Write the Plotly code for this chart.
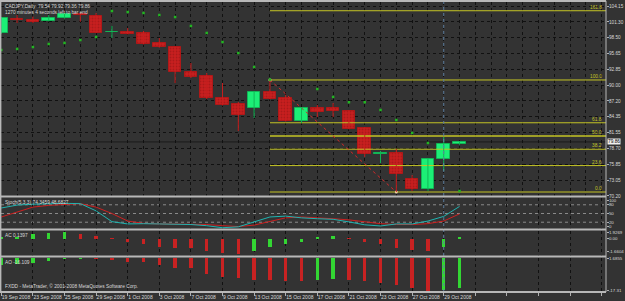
import plotly.graph_objects as go

# ---------------- data ----------------
symbol = "CADJPY"
timeframe = "Daily"
dates = ["19 Sep 2008", "22 Sep 2008", "23 Sep 2008", "24 Sep 2008", "25 Sep 2008", "26 Sep 2008",
         "29 Sep 2008", "30 Sep 2008", "1 Oct 2008", "2 Oct 2008", "3 Oct 2008", "6 Oct 2008",
         "7 Oct 2008", "8 Oct 2008", "9 Oct 2008", "10 Oct 2008", "13 Oct 2008", "14 Oct 2008",
         "15 Oct 2008", "16 Oct 2008", "17 Oct 2008", "20 Oct 2008", "21 Oct 2008", "22 Oct 2008",
         "23 Oct 2008", "24 Oct 2008", "27 Oct 2008", "28 Oct 2008", "29 Oct 2008", "30 Oct 2008"]
opens = [99.32, 101.80, 101.65, 101.47, 102.00, 102.72, 102.36, 99.45, 99.50, 99.33,
         97.54, 96.82, 92.36, 91.64, 87.71, 86.64, 85.92, 88.78, 87.71, 83.60,
         85.92, 85.92, 85.39, 82.35, 77.79, 77.88, 73.24, 71.45, 76.81, 79.54]
highs = [102.10, 102.54, 102.27, 102.54, 102.90, 102.95, 102.90, 100.58, 100.22, 99.68,
         98.43, 96.91, 93.96, 92.18, 90.39, 87.00, 88.90, 90.93, 88.25, 86.00,
         86.46, 86.82, 85.50, 82.50, 78.24, 78.60, 73.95, 76.90, 80.74, 79.92]
lows = [99.20, 101.11, 101.11, 101.40, 101.90, 101.34, 99.30, 98.43, 99.06, 97.27,
        96.73, 90.39, 91.28, 87.53, 86.37, 81.81, 84.14, 87.44, 83.51, 83.24,
        84.31, 84.31, 82.10, 77.17, 76.09, 70.91, 71.09, 71.09, 74.66, 79.36]
closes = [102.00, 101.65, 101.38, 102.00, 102.72, 102.60, 99.33, 99.56, 99.15, 97.36,
          96.82, 92.36, 91.46, 87.71, 86.46, 84.67, 88.78, 87.53, 83.60, 85.92,
          85.21, 85.39, 82.17, 77.70, 77.97, 74.13, 71.45, 76.81, 79.49, 79.86]
sar = [96.29, 96.47, 96.82, 97.36, 97.54, 98.07, 98.61, 103.26, 103.08, 102.90,
       102.54, 102.18, 100.58, 99.33, 97.72, 95.75, 93.25, 91.00, None, None,
       89.32, 87.89, 86.95, 86.95, 85.57, 83.78, 81.46, 79.67, None, 71.09]

stoch_k = [69, 79, 82, 84, 85, 84, 59, 22, 14, 15, 14, 15, 12, 8, 1, 4, 21, 38, 41, 35,
           32, 30, 21, 11, 7, 14, 14, 24, 40, 74.3459]
stoch_d = [38, 55, 72, 78, 82, 84, 72, 50, 24, 16, 14, 14, 14, 12, 8, 5, 10, 22, 35, 38,
           36, 32, 28, 22, 15, 12, 12, 15, 24, 48.6827]
stoch_levels = [20, 50, 80]
ac = [0.10, 0.20, 0.50, 0.65, 0.69, 0.50, 0.22, -0.05, -0.33, -0.62, -0.94, -1.00, -1.05,
      -1.41, -1.55, -1.6604, -1.41, -0.94, -0.62, -0.33, 0.08, 0.22, -0.05, -0.33, -0.62,
      -0.98, -1.30, -1.40, -0.87, 0.1397]
ao = [-3.6, -3.0, -2.3, -1.2, -0.2, 0.1, -0.3, -0.9, -1.8, -2.1, -3.6, -5.0, -5.3, -8.4,
      -10.2, -10.7, -11.6, -11.8, -12.0, -12.1, -11.6, -11.0, -11.6, -12.1, -13.0, -14.3,
      -16.0, -17.31, -16.9, -16.109]

fib_start_idx = 17
fib_end_idx = 25
fib_high = 90.93
fib_low = 70.91
fib_levels = [0.0, 23.6, 38.2, 50.0, 61.8, 100.0, 161.8]
marker_line_idx = 28

price_ticks = ["104.15", "101.30", "98.50", "95.65", "92.85", "90.00", "87.20",
               "84.35", "81.55", "78.70", "75.85", "73.05", "70.20"]
stoch_ticks = ["100", "80", "50", "20", "0"]
ac_tick_text = ["1.9269", "0.00", "-1.6604"]
ao_tick_text = ["1.6855", "-17.31"]
countdown = "1270 minutes 4 seconds left to bar end"
copyright_txt = "FXDD - MetaTrader, © 2001-2008 MetaQuotes Software Corp."

# ---------------- styles ----------------
BG = "#333333"
GRID = "#111111"
FRAME = "#b8b8b8"
TXT = "#d8d8d8"
GREEN = "#1cef76"
GREEN_EDGE = "#12b556"
RED = "#c81f1f"
FIB = "#c4c425"
FONT = "Liberation Sans"
XR = [-0.02, 38.27]

idx = list(range(len(dates)))
bull = [i for i in idx if closes[i] >= opens[i]]
bear = [i for i in idx if closes[i] < opens[i]]


def wicks(ids):
    xs, ys = [], []
    for i in ids:
        xs += [i, i, None]
        ys += [lows[i], highs[i], None]
    return xs, ys


fig = go.Figure()

rng = fib_high - fib_low
for lv in fib_levels:
    p = fib_low + rng * lv / 100.0
    fig.add_trace(go.Scatter(x=[fib_start_idx, XR[1] + 2], y=[p, p], mode="lines",
                             line=dict(color=FIB, width=1.6 if lv == 50.0 else 1),
                             xaxis="x", yaxis="y", hoverinfo="skip"))

fig.add_trace(go.Scatter(x=[fib_start_idx, fib_end_idx], y=[fib_high, fib_low], mode="lines+markers",
                         line=dict(color="#d02828", width=1, dash="dot"),
                         marker=dict(size=3, color="#f0d0a0"), xaxis="x", yaxis="y"))

bx, by = wicks(bull)
fig.add_trace(go.Scatter(x=bx, y=by, mode="lines", line=dict(color=GREEN_EDGE, width=1),
                         xaxis="x", yaxis="y", hoverinfo="skip"))
rx, ry = wicks(bear)
fig.add_trace(go.Scatter(x=rx, y=ry, mode="lines", line=dict(color=RED, width=1),
                         xaxis="x", yaxis="y", hoverinfo="skip"))

fig.add_trace(go.Bar(x=bull, y=[closes[i] - opens[i] for i in bull], base=[opens[i] for i in bull],
                     width=0.8, marker=dict(color=GREEN, line=dict(color=GREEN_EDGE, width=1)),
                     xaxis="x", yaxis="y"))
fig.add_trace(go.Bar(x=bear, y=[opens[i] - closes[i] for i in bear], base=[closes[i] for i in bear],
                     width=0.8, marker=dict(color=RED, line=dict(color="#b01818", width=1),
                                            pattern=dict(shape=".", fgcolor="#8e1414", bgcolor=RED,
                                                         size=3, solidity=0.35)),
                     xaxis="x", yaxis="y"))

fig.add_trace(go.Scatter(x=idx, y=sar, mode="markers",
                         marker=dict(symbol="square", size=2.5, color="#22b422", line=dict(width=0)),
                         xaxis="x", yaxis="y"))

fig.add_trace(go.Scatter(x=idx, y=stoch_d, mode="lines", line=dict(color="#cc2020", width=1),
                         xaxis="x2", yaxis="y2"))
fig.add_trace(go.Scatter(x=idx, y=stoch_k, mode="lines", line=dict(color="#1fb3b0", width=1),
                         xaxis="x2", yaxis="y2"))


def updown_colors(vals, up, dn):
    cols = []
    for i, v in enumerate(vals):
        cols.append(up if i == 0 or v > vals[i - 1] else dn)
    return cols


fig.add_trace(go.Bar(x=idx, y=ac, width=0.22,
                     marker=dict(color=updown_colors(ac, "#33d633", "#c82222"), line=dict(width=0)),
                     xaxis="x3", yaxis="y3"))
fig.add_trace(go.Bar(x=idx, y=ao, width=0.22,
                     marker=dict(color=updown_colors(ao, "#33d633", "#c82222"), line=dict(width=0)),
                     xaxis="x4", yaxis="y4"))

# ---------------- layout ----------------
H = 290.0


def dom(top_px, bot_px):
    return [(292 - bot_px) / H, (292 - top_px) / H]


axis_common = dict(range=XR, showline=False, zeroline=False, showgrid=True, gridcolor=GRID,
                   griddash="dot", gridwidth=1, fixedrange=True, automargin=False)
yfont = dict(family=FONT, size=4.7, color=TXT)
sfont = dict(family=FONT, size=4.4, color=TXT)
ycommon = dict(side="right", ticks="outside", ticklen=2, tickcolor="#b0b0b0", tickfont=yfont,
               zeroline=False, fixedrange=True, automargin=False, ticklabelstandoff=-1)

date_vals = list(range(0, 39, 2))
date_text = [dates[i] if i < len(dates) else "" for i in date_vals]

fig.update_layout(
    width=625, height=301,
    margin=dict(l=1, r=19, t=2, b=9),
    paper_bgcolor=BG, plot_bgcolor=BG,
    showlegend=False, barmode="overlay", bargap=0,
    font=dict(family=FONT, color=TXT),
    xaxis=dict(axis_common, domain=[0, 1], anchor="y", tickvals=list(range(0, 39)),
               showticklabels=False, ticks=""),
    xaxis2=dict(axis_common, domain=[0, 1], anchor="y2", tickvals=date_vals,
                showticklabels=False, ticks=""),
    xaxis3=dict(axis_common, domain=[0, 1], anchor="y3", tickvals=date_vals,
                showticklabels=False, ticks=""),
    xaxis4=dict(axis_common, domain=[0, 1], anchor="y4", tickvals=date_vals, ticktext=date_text,
                ticks="outside", ticklen=3, tickcolor="#b0b0b0", ticklabelposition="outside right",
                tickangle=0, tickfont=dict(family=FONT, size=5, color=TXT)),
    yaxis=dict(ycommon, domain=dom(2, 196), range=[70.197, 104.865], anchor="x",
               tickvals=[float(t) for t in price_ticks], ticktext=price_ticks,
               showgrid=True, gridcolor=GRID, griddash="dot"),
    yaxis2=dict(ycommon, domain=dom(198, 229), range=[-3.4, 103.4], anchor="x2",
                tickvals=[94, 80, 50, 20, 6], ticktext=stoch_ticks,
                tickfont=sfont, showgrid=False),
    yaxis3=dict(ycommon, domain=dom(231, 256), range=[-1.90, 0.815], anchor="x3",
                tickvals=[0.62, 0.0, -1.40], ticktext=ac_tick_text, tickfont=sfont, showgrid=False),
    yaxis4=dict(ycommon, domain=dom(258, 292), range=[-18.02, 0.16], anchor="x4",
                tickvals=[-0.3, -17.31], ticktext=ao_tick_text, tickfont=sfont, showgrid=False),
)

shapes = []
shapes.append(dict(type="line", xref="x domain", x0=0, x1=1, yref="y", y0=closes[-1], y1=closes[-1],
                   line=dict(color="#1a1a1a", width=1), layer="below"))
for lv in stoch_levels:
    shapes.append(dict(type="line", xref="x2 domain", x0=0, x1=1, yref="y2", y0=lv, y1=lv,
                       line=dict(color="#8a8a8a", width=1, dash="dot"), layer="below"))
shapes.append(dict(type="line", xref="x", x0=marker_line_idx, x1=marker_line_idx, yref="paper", y0=0, y1=1,
                   line=dict(color="#5f7f9f", width=1, dash="dot")))
for ypx in [1, 196.5, 229.5, 256.5, 292]:
    yp = (292 - ypx) / H
    shapes.append(dict(type="line", xref="paper", x0=-0.002, x1=1.0, yref="paper", y0=yp, y1=yp,
                       line=dict(color=FRAME, width=2)))
shapes.append(dict(type="line", xref="paper", x0=-0.001, x1=-0.001, yref="paper", y0=0, y1=1.004,
                   line=dict(color=FRAME, width=2)))
shapes.append(dict(type="line", xref="paper", x0=1.0, x1=1.0, yref="paper", y0=0, y1=1.004,
                   line=dict(color=FRAME, width=1)))
fig.update_layout(shapes=shapes)

ann = []
last = len(dates) - 1
ann.append(dict(xref="paper", yref="paper", x=0.003, y=0.999, xanchor="left", yanchor="top",
                text=f"{symbol},{timeframe}  {opens[last]:.2f} {highs[last]:.2f} {lows[last]:.2f} {closes[last]:.2f}<br>{countdown}",
                showarrow=False, align="left", font=dict(family=FONT, size=4.8, color=TXT)))
for lv in fib_levels:
    p = fib_low + rng * lv / 100.0
    ann.append(dict(xref="x domain", yref="y", x=0.997, y=p, xanchor="right", yanchor="bottom",
                    text=f"{lv:.1f}", showarrow=False, yshift=-1,
                    font=dict(family=FONT, size=4.8, color=FIB)))
ann.append(dict(xref="paper", yref="y", x=1.0, y=closes[-1], xanchor="left", yanchor="middle",
                xshift=1, text=f"{closes[-1]:.2f}", showarrow=False, bgcolor="#f0f0f0", borderpad=0,
                font=dict(family=FONT, size=4.8, color="#000000")))
ann.append(dict(xref="paper", yref="paper", x=0.003, y=dom(198, 229)[1], xanchor="left", yanchor="top",
                text=f"Stoch(5,3,3) {stoch_k[-1]:.4f} {stoch_d[-1]:.4f}", showarrow=False,
                font=dict(family=FONT, size=4.8, color=TXT)))
ann.append(dict(xref="paper", yref="paper", x=0.003, y=dom(231, 256)[1], xanchor="left", yanchor="top",
                text=f"AC {ac[-1]:.4f}", showarrow=False, font=dict(family=FONT, size=4.8, color=TXT)))
ann.append(dict(xref="paper", yref="paper", x=0.003, y=dom(258, 292)[1], xanchor="left", yanchor="top",
                text=f"AO {ao[-1]:.3f}", showarrow=False, font=dict(family=FONT, size=4.8, color=TXT)))
ann.append(dict(xref="paper", yref="paper", x=0.003, y=0.005, xanchor="left", yanchor="bottom",
                text=copyright_txt, showarrow=False, font=dict(family=FONT, size=4.8, color=TXT)))
fig.update_layout(annotations=ann)

fig.write_html("out.html")
